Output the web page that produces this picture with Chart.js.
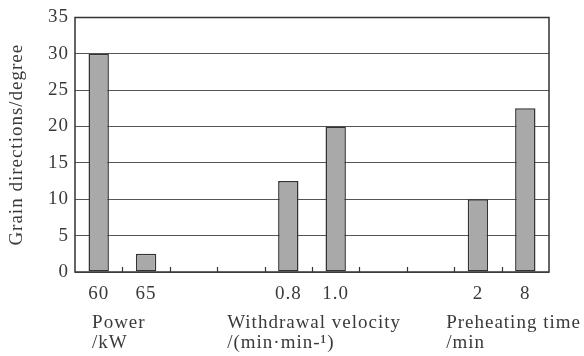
<!DOCTYPE html>
<html><head><meta charset="utf-8">
<script src="https://cdn.jsdelivr.net/npm/chart.js@4/dist/chart.umd.min.js"></script>
<style>html,body{margin:0;padding:0;background:#fff}#wrap{width:584px;height:356px}</style>
</head><body><div id="wrap"><canvas id="c" width="584" height="356"></canvas></div>
<script>
const categories = ['60','65','','','0.8','1.0','','','2','8'];
const grainDirections = [30, 2.5, null, null, 12.5, 20, null, null, 10, 22.5];
const yTicks = [0,5,10,15,20,25,30,35];
const groupLabels = [['Power','/kW'], ['Withdrawal velocity','/(min\u00B7min-\u00B9)'], ['Preheating time','/min']];
const groupAnchors = [-0.14, 2.71, 7.33];

const FONT = '"Liberation Serif", "Times New Roman", serif';
const TXT = '#3a3a3a';
const FS = 19;

const spacing = {
  id: 'spacing',
  beforeInit(chart) { chart.ctx.letterSpacing = '1px'; },
  beforeLayout(chart) { chart.ctx.letterSpacing = '1px'; },
  beforeDraw(chart) { chart.ctx.letterSpacing = '1px'; }
};

const extras = {
  id: 'extras',
  afterDraw(chart) {
    const ctx = chart.ctx, a = chart.chartArea, x = chart.scales.x;
    ctx.save();
    ctx.strokeStyle = '#333333';
    ctx.lineWidth = 1.5;
    ctx.beginPath();
    ctx.rect(a.left, a.top, a.right - a.left, a.bottom - a.top);
    ctx.stroke();
    ctx.lineWidth = 1.2;
    for (let i = 1; i < categories.length; i++) {
      const px = Math.round(x.getPixelForValue(i - 0.5)) + 0.5;
      ctx.beginPath(); ctx.moveTo(px, a.bottom); ctx.lineTo(px, a.bottom - 5); ctx.stroke();
    }
    ctx.fillStyle = TXT;
    ctx.font = FS + 'px ' + FONT;
    ctx.letterSpacing = '1px';
    ctx.textAlign = 'left';
    ctx.textBaseline = 'middle';
    groupLabels.forEach((lines, g) => {
      const px = x.getPixelForValue(groupAnchors[g]);
      ctx.fillText(lines[0], px, a.bottom + 51);
      ctx.fillText(lines[1], px, a.bottom + 71);
    });
    ctx.restore();
  }
};

new Chart(document.getElementById('c'), {
  type: 'bar',
  data: { labels: categories, datasets: [{
    data: grainDirections,
    backgroundColor: '#a9a9a9',
    borderColor: '#333333',
    borderWidth: 1.5,
    borderSkipped: false,
    categoryPercentage: 1,
    barPercentage: 0.43
  }]},
  options: {
    responsive: false, animation: false,
    layout: { padding: { top: 16, right: 35, left: 0, bottom: 0 } },
    plugins: { legend: { display: false }, tooltip: { enabled: false } },
    scales: {
      x: {
        grid: { display: false },
        border: { display: false },
        ticks: { color: TXT, font: { family: FONT, size: FS }, padding: 3, maxRotation: 0, autoSkip: false },
        afterFit(s) { s.height = 84; }
      },
      y: {
        min: 0, max: 35,
        afterBuildTicks(s) { s.ticks = yTicks.map(v => ({ value: v })); },
        grid: { color: '#555555', lineWidth: 1, drawTicks: false },
        border: { display: false },
        ticks: { color: TXT, font: { family: FONT, size: FS }, padding: 6 },
        title: { display: true, text: 'Grain directions/degree', color: TXT, font: { family: FONT, size: FS }, padding: { top: 6, bottom: 2 } },
        afterFit(s) { s.width = 75; }
      }
    }
  },
  plugins: [spacing, extras]
});
</script></body></html>
